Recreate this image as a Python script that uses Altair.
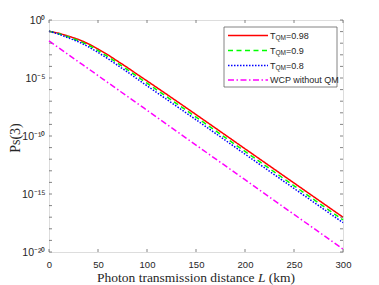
import altair as alt
import pandas as pd

# ---- data (log10 of Ps(3)) ----
distance_km = [0, 10, 20, 30, 40, 50, 60, 70, 80, 90, 100, 120, 150, 200, 250, 300]
log_t098 = [-0.97, -1.15, -1.40, -1.68, -2.05, -2.50, -3.00, -3.55, -4.10, -4.68, -5.25, -6.40, -8.15, -11.10, -14.05, -17.00]
log_t090 = [-0.97, -1.19, -1.47, -1.78, -2.17, -2.64, -3.16, -3.72, -4.28, -4.87, -5.45, -6.61, -8.37, -11.33, -14.29, -17.24]
log_t080 = [-0.97, -1.23, -1.55, -1.88, -2.30, -2.80, -3.33, -3.91, -4.48, -5.08, -5.67, -6.84, -8.60, -11.56, -14.52, -17.47]
log_wcp = [-1.80, -2.40, -3.00, -3.60, -4.19, -4.79, -5.39, -5.99, -6.59, -7.18, -7.78, -8.98, -10.78, -13.77, -16.76, -19.75]

series_keys = ["t098", "t090", "t080", "wcp"]
legend_main = ["T", "T", "T", "WCP without QM"]
legend_sub = ["QM", "QM", "QM", ""]
legend_tail = ["=0.98", "=0.9", "=0.8", ""]
colors = ["#ff0000", "#00ff00", "#0000ff", "#ff00ff"]
dashes = [[1, 0], [5, 3.5], [1.5, 1.5], [6, 2.5, 1.5, 2.5]]

x_ticks = [0, 50, 100, 150, 200, 250, 300]
y_tick_exps = list(range(0, -21, -1))
y_label_exps = [0, -5, -10, -15, -20]

# ---- layout ----
W, H = 294, 232
SANS = "Liberation Sans"
SERIF = "Liberation Serif"
FRAME = "#666666"
TXT = "#262626"

rows = []
for key, vals in zip(series_keys, [log_t098, log_t090, log_t080, log_wcp]):
    for L, e in zip(distance_km, vals):
        rows.append({"L": L, "P": 10.0 ** e, "series": key})
df = pd.DataFrame(rows)

xs = alt.Scale(domain=[0, 300], nice=False, zero=False)
ys = alt.Scale(type="log", domain=[1e-20, 1], nice=False)

sup = str.maketrans("0123456789-", "⁰¹²³⁴⁵⁶⁷⁸⁹⁻")
label_expr = ""
for i, e in enumerate(y_label_exps):
    lab = "10" + str(e).translate(sup)
    if i < len(y_label_exps) - 1:
        label_expr += f"datum.value > {10.0 ** (e - 0.5)} ? '{lab}' : "
    else:
        label_expr += f"'{lab}'"

x_axis = alt.Axis(values=x_ticks, ticks=False, domain=False, grid=False, title=None, labelFlush=False,
                  labelFont=SANS, labelFontSize=9.5, labelColor=TXT, labelPadding=7)
y_axis = alt.Axis(values=[10.0 ** e for e in y_label_exps], labelExpr=label_expr, ticks=False, labelFlush=False,
                  domain=False, grid=False, title=None, labelFont=SANS, labelFontSize=10.5,
                  labelColor=TXT, labelPadding=4)

lines = alt.Chart(df).mark_line(strokeWidth=1.5, interpolate="monotone").encode(
    x=alt.X("L:Q", scale=xs, axis=x_axis),
    y=alt.Y("P:Q", scale=ys, axis=y_axis),
    color=alt.Color("series:N", scale=alt.Scale(domain=series_keys, range=colors), legend=None),
    strokeDash=alt.StrokeDash("series:N", scale=alt.Scale(domain=series_keys, range=dashes), legend=None),
)

# inward ticks on all four sides
xt = pd.DataFrame({"L": x_ticks})
yt = pd.DataFrame({"P": [10.0 ** e for e in y_tick_exps]})
tick_style = dict(color=FRAME, strokeWidth=0.8)
xb = alt.Chart(xt).mark_rule(**tick_style).encode(x=alt.X("L:Q", scale=xs, axis=x_axis), y=alt.value(H), y2=alt.value(H - 3))
xtop = alt.Chart(xt).mark_rule(**tick_style).encode(x=alt.X("L:Q", scale=xs, axis=x_axis), y=alt.value(0), y2=alt.value(3))
yl = alt.Chart(yt).mark_rule(**tick_style).encode(y=alt.Y("P:Q", scale=ys, axis=y_axis), x=alt.value(0), x2=alt.value(3))
yr = alt.Chart(yt).mark_rule(**tick_style).encode(y=alt.Y("P:Q", scale=ys, axis=y_axis), x=alt.value(W - 3), x2=alt.value(W))

one = pd.DataFrame({"k": [0]})

# axis titles
ytitle = alt.Chart(one).mark_text(text="Ps(3)", font=SERIF, fontSize=14, angle=270, color=TXT,
                                  align="center", baseline="middle").encode(x=alt.value(-33), y=alt.value(118))

# x title with italic L
t1, t2, t3 = "Photon transmission distance", "L", "(km)"
em = {"P": .556, "h": .5, "o": .5, "t": .278, "n": .5, " ": .25, "r": .333, "a": .444, "s": .389,
      "m": .778, "i": .278, "d": .5, "c": .444, "e": .444, "L": .556, "(": .333, "k": .5, ")": .333}
fs = 13.5
sp = 0.25 * fs
w1 = sum(em[c] for c in t1) * fs
w2 = em["L"] * fs
w3 = sum(em[c] for c in t3) * fs
x0 = W / 2 - (w1 + w2 + w3 + 2 * sp) / 2
ty = H + 26
xt1 = alt.Chart(one).mark_text(text=t1, font=SERIF, fontSize=fs, color=TXT, align="left", baseline="middle").encode(x=alt.value(x0), y=alt.value(ty))
xt2 = alt.Chart(one).mark_text(text=t2, font=SERIF, fontSize=fs, fontStyle="italic", color=TXT, align="left", baseline="middle").encode(x=alt.value(x0 + w1 + sp), y=alt.value(ty))
xt3 = alt.Chart(one).mark_text(text=t3, font=SERIF, fontSize=fs, color=TXT, align="left", baseline="middle").encode(x=alt.value(x0 + w1 + w2 + 2 * sp), y=alt.value(ty))

# legend
LX0, LX1, LY0, LY1 = 175, 288, 7, 67
box = alt.Chart(one).mark_rect(fill="white", stroke=FRAME, strokeWidth=0.8).encode(
    x=alt.value(LX0), x2=alt.value(LX1), y=alt.value(LY0), y2=alt.value(LY1))
leg_layers = [box]
entry_y = [15.5, 30.5, 45.5, 60]
lfs = 9
for i in range(4):
    yy = entry_y[i]
    leg_layers.append(alt.Chart(one).mark_rule(color=colors[i], strokeWidth=1.5, strokeDash=dashes[i]).encode(
        x=alt.value(179), x2=alt.value(219), y=alt.value(yy)))
    tx = 221
    leg_layers.append(alt.Chart(one).mark_text(text=legend_main[i], font=SANS, fontSize=lfs, color=TXT,
                                               align="left", baseline="middle").encode(x=alt.value(tx), y=alt.value(yy)))
    if legend_sub[i]:
        sx = tx + 0.611 * lfs
        leg_layers.append(alt.Chart(one).mark_text(text=legend_sub[i], font=SANS, fontSize=6.5, color=TXT,
                                                   align="left", baseline="middle").encode(x=alt.value(sx), y=alt.value(yy + 2.5)))
        rx = sx + 1.611 * 6.5
        leg_layers.append(alt.Chart(one).mark_text(text=legend_tail[i], font=SANS, fontSize=lfs, color=TXT,
                                                   align="left", baseline="middle").encode(x=alt.value(rx), y=alt.value(yy)))

chart = alt.layer(lines, xb, xtop, yl, yr, ytitle, xt1, xt2, xt3, *leg_layers).properties(
    width=W, height=H,
    autosize=alt.AutoSizeParams(type="none"),
    padding={"left": 41, "top": 12, "right": 10, "bottom": 36},
).configure_view(stroke=FRAME, strokeWidth=0.8).configure(background="white")

chart.save("out.html", embed_options={"renderer": "svg", "actions": False})
